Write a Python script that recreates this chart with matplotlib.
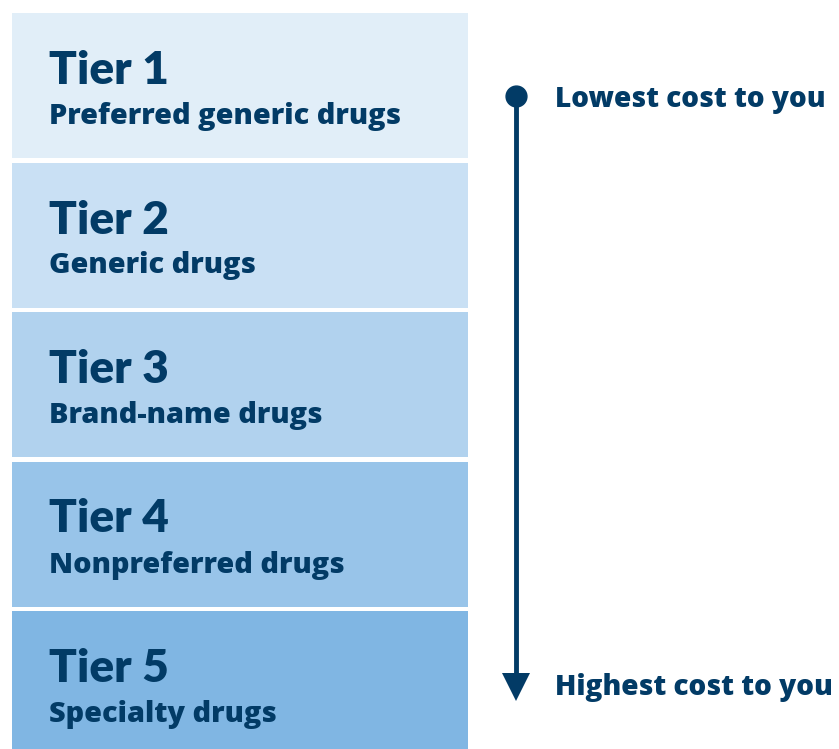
import matplotlib
matplotlib.use("Agg")
import matplotlib.pyplot as plt

tiers = ["Tier 1", "Tier 2", "Tier 3", "Tier 4", "Tier 5"]
descriptions = ["Preferred generic drugs", "Generic drugs", "Brand-name drugs",
                "Nonpreferred drugs", "Specialty drugs"]
colors = ["#E1EEF8", "#C9E0F4", "#B1D2EE", "#98C4E9", "#80B6E3"]
cost_labels = ["Lowest cost to you", "Highest cost to you"]

W, H = 839, 749
TXT = "#023B66"
plt.rcParams['font.family'] = ['Lato', 'DejaVu Sans']
SUB = ['Open Sans', 'DejaVu Sans']

fig = plt.figure(figsize=(W / 100, H / 100), dpi=100)
ax = fig.add_axes([0, 0, 1, 1])
ax.set_xlim(0, W)
ax.set_ylim(H, 0)
ax.axis('off')

top, stride, bh = 13, 149.5, 145
left, bw = 12, 456
centers = [top + i * stride + bh / 2 for i in range(len(tiers))]
ax.barh(centers, [bw] * len(tiers), height=bh, left=left, color=colors, edgecolor='none')

for c, t, d in zip(centers, tiers, descriptions):
    y0 = c - bh / 2
    ax.text(49, y0 + 71, t, fontsize=33, fontweight='heavy', color=TXT, va='baseline', ha='left')
    ax.text(49, y0 + 111, d, fontsize=20.8, fontweight='heavy', family=SUB, color=TXT,
            va='baseline', ha='left')

ax_x = 516
y_start, y_end = 96, 698
ax.plot([ax_x, ax_x], [y_start, y_end - 12], color=TXT, lw=3.5, solid_capstyle='butt')
ax.plot([ax_x], [y_start], marker='o', markersize=15, color=TXT)
ax.plot([ax_x], [y_end - 11], marker='v', markersize=20, color=TXT, markeredgewidth=0)

ax.text(555, 107, cost_labels[0], fontsize=20.2, fontweight='heavy', family=SUB, color=TXT,
        va='baseline', ha='left')
ax.text(555, 695, cost_labels[1], fontsize=20.2, fontweight='heavy', family=SUB, color=TXT,
        va='baseline', ha='left')

fig.savefig("out.png", dpi=100)
